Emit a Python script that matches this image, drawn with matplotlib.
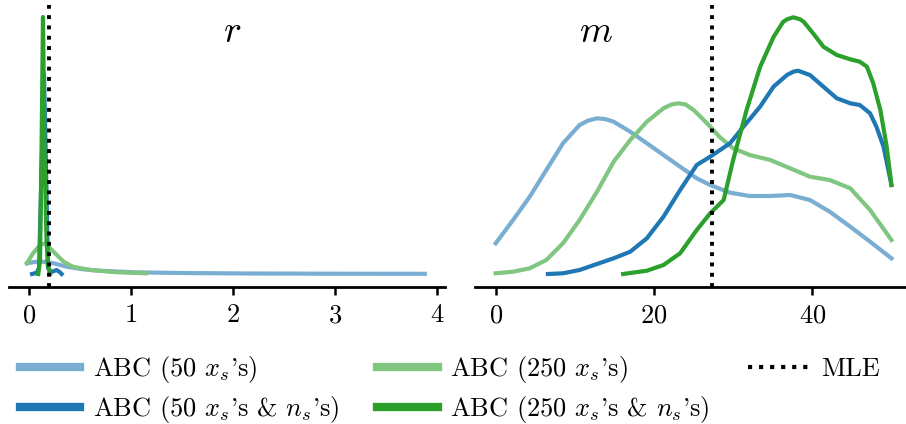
import matplotlib
matplotlib.use("Agg")
import matplotlib.pyplot as plt
from matplotlib.lines import Line2D

plt.rcParams['font.family'] = 'serif'
plt.rcParams['font.serif'] = ['cmr10']
plt.rcParams['mathtext.fontset'] = 'cm'
plt.rcParams['axes.formatter.use_mathtext'] = True

# colours
c_lb = '#79add2'
c_db = '#1f77b4'
c_lg = '#80c680'
c_dg = '#2ca02c'

# ---------------- r panel (KDE curves) ----------------
r_lb_x = [-0.02, 0.07, 0.14, 0.24, 0.37, 0.53, 0.70, 1.02, 1.48, 2.17, 2.95, 3.88]
r_lb_y = [0.86, 0.98, 0.98, 0.86, 0.58, 0.38, 0.26, 0.14, 0.08, 0.04, 0.024, 0.016]

r_lg_x = [-0.02, 0.04, 0.11, 0.16, 0.24, 0.34, 0.43, 0.60, 0.86, 1.15]
r_lg_y = [0.86, 1.66, 2.32, 2.46, 1.78, 0.98, 0.58, 0.32, 0.14, 0.056]

r_db_x = [0.03, 0.075, 0.098, 0.12, 0.147, 0.17, 0.186, 0.22, 0.27, 0.30, 0.32]
r_db_y = [0.0, 0.10, 0.48, 7.2, 16.0, 7.2, 0.48, 0.16, 0.32, 0.16, 0.0]

r_dg_x = [0.091, 0.108, 0.123, 0.137, 0.152, 0.172, 0.186, 0.206]
r_dg_y = [0.0, 1.12, 9.92, 20.56, 9.92, 2.72, 0.72, 0.0]

r_mle = 0.2
r_ticks = [0, 1, 2, 3, 4]

# ---------------- m panel ----------------
m_lb_x = [0, 2.2, 4.3, 6.4, 8.5, 10.6, 11.7, 12.8, 13.8, 14.9, 17.0, 19.1, 21.2, 23.3, 25.4,
          27.1, 29.6, 32.1, 34.7, 37.2, 39.7, 42.2, 44.8, 47.3, 50]
m_lb_h = [30.7, 54, 77.3, 104, 130.7, 149, 153.5, 155.7, 155, 152.3, 142.3, 130.7, 119, 107.3, 95.7,
          89, 81.3, 78, 78, 79, 74, 62.3, 47.3, 32.3, 15.7]

m_lg_x = [0, 2.2, 4.3, 6.4, 8.5, 10.6, 12.8, 14.9, 17.0, 19.1, 21.2, 22.2, 23.1, 24.0, 25.0,
          26.7, 28.3, 30.0, 32.1, 34.7, 37.2, 39.7, 42.2, 44.8, 47.3, 50]
m_lg_h = [0.7, 2.3, 5.7, 14, 30.7, 54, 82.3, 112.3, 134, 152.3, 165.7, 169.5, 170.7, 169.5, 164,
          150.7, 137, 125.7, 119, 114, 105.7, 97.3, 94, 85.7, 64, 34]

m_db_x = [6.6, 8.5, 10.6, 12.8, 14.9, 17.0, 19.1, 21.2, 23.3, 25.4, 27.1, 29.6, 31.3,
          33.4, 35.1, 36.8, 37.6, 38.2, 39.7, 41.4, 43.1, 44.8, 46.0, 47.3, 48.1, 49.0, 50.0]
m_db_h = [0, 0.7, 4, 10, 15.7, 22.3, 35.7, 57.3, 84, 109, 117.3, 130.7, 147.3,
          167.3, 187.3, 199, 202.3, 203.3, 199, 187.3, 175.7, 170.7, 169, 160.7, 147.3, 127.3, 89]

m_dg_x = [16.1, 19.1, 21.2, 23.3, 25.4, 27.1, 28.8, 30.0, 31.7, 33.4, 35.1, 36.3, 36.8, 37.6,
          38.45, 38.9, 40.1, 41.4, 43.1, 44.8, 46.0, 46.9, 47.7, 48.6, 49.4, 50.0]
m_dg_h = [0, 3.3, 9, 20.7, 44, 60.7, 74, 114, 164, 207, 237, 252, 254.7, 256.7,
          254.7, 252.3, 240.7, 227.3, 219, 214.7, 212.3, 207.3, 190.7, 164, 127.3, 89]

m_scale = 0.00025  # density units per read height unit
m_mle = 27.3
m_ticks = [0, 20, 40]

labels = ["ABC (50 $x_s$'s)", "ABC (50 $x_s$'s & $n_s$'s)",
          "ABC (250 $x_s$'s)", "ABC (250 $x_s$'s & $n_s$'s)", "MLE"]

W, H = 906, 424
fig = plt.figure(figsize=(W / 100, H / 100), dpi=100)
axl = fig.add_axes([9 / W, 1 - 286.8 / H, 436 / W, 282.3 / H])
axr = fig.add_axes([475 / W, 1 - 286.8 / H, 436 / W, 282.3 / H])

lw = 3.0
kw = dict(lw=lw, solid_joinstyle='round')
axl.plot(r_lb_x, r_lb_y, color=c_lb, **kw)
axl.plot(r_lg_x, r_lg_y, color=c_lg, **kw)
axl.plot(r_db_x, r_db_y, color=c_db, **kw)
axl.plot(r_dg_x, r_dg_y, color=c_dg, **kw)
axl.axvline(r_mle, color='black', lw=2.8, ls=':')

axr.plot(m_lb_x, [h * m_scale for h in m_lb_h], color=c_lb, **kw)
axr.plot(m_lg_x, [h * m_scale for h in m_lg_h], color=c_lg, **kw)
axr.plot(m_db_x, [h * m_scale for h in m_db_h], color=c_db, **kw)
axr.plot(m_dg_x, [h * m_scale for h in m_dg_h], color=c_dg, **kw)
axr.axvline(m_mle, color='black', lw=2.8, ls=':')

axl.set_xlim(-0.196, 4.078)
axl.set_ylim(-12.8 * 0.08, 269.5 * 0.08)
axr.set_xlim(-2.615, 52.47)
axr.set_ylim(-12.8 * m_scale, 269.5 * m_scale)

axl.set_xticks(r_ticks)
axr.set_xticks(m_ticks)

for ax in (axl, axr):
    for s in ('left', 'right', 'top'):
        ax.spines[s].set_visible(False)
    ax.spines['bottom'].set_linewidth(2.0)
    ax.set_yticks([])
    ax.tick_params(axis='x', length=6, width=1.8, labelsize=19, pad=6)
    ax.patch.set_alpha(0)

axl.text(0.511, 0.90, '$r$', transform=axl.transAxes, ha='center', va='center', fontsize=27)
axr.text(0.277, 0.90, '$m$', transform=axr.transAxes, ha='center', va='center', fontsize=27)

handles = [Line2D([], [], color=c_lb, lw=6),
           Line2D([], [], color=c_db, lw=6),
           Line2D([], [], color=c_lg, lw=6),
           Line2D([], [], color=c_dg, lw=6),
           Line2D([], [], color='black', lw=3, ls=':')]
fig.legend(handles, labels, ncol=3,
           loc='upper left', bbox_to_anchor=(0.0, 1 - 334 / H), frameon=False,
           fontsize=19, handlelength=2.3, handletextpad=0.46, columnspacing=1.45,
           labelspacing=0.36, borderpad=0.25)

fig.savefig('out.png', dpi=100)
